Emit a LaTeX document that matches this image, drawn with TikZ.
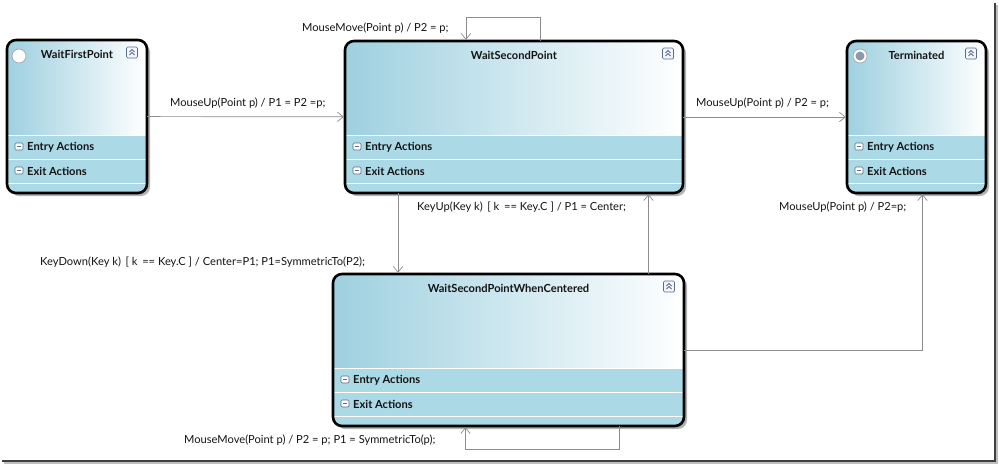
\documentclass[tikz,border=0pt]{standalone}
\usepackage{fontspec}
\setmainfont{Lato}
\usetikzlibrary{calc,arrows.meta}

\definecolor{hdblue}{RGB}{158,208,224}
\definecolor{cmpblue}{RGB}{171,217,230}
\definecolor{lineg}{RGB}{140,140,140}
\definecolor{txt}{RGB}{20,20,20}
\definecolor{iconb}{RGB}{90,110,135}

\begin{document}
\begin{tikzpicture}[x=0.03cm, y=-0.03cm]

    % 1 jednotka = 1 px, osa y dolů
    \def\px{0.03cm}

    % styly
    \tikzset{
        statebox/.style={draw=none, rectangle, outer sep=0pt, inner sep=0pt},
        border/.style={draw=black, line width=2.2pt, rounded corners=0.27cm},
        title/.style={font=\fontsize{9.5}{10}\selectfont\bfseries, text=txt, inner sep=0pt},
        cmp/.style={font=\fontsize{9.5}{10}\selectfont\bfseries, text=txt, inner sep=0pt, anchor=west},
        lbl/.style={font=\fontsize{9.5}{10}\selectfont, text=txt, inner sep=0pt, anchor=west},
        trans/.style={draw=lineg, line width=0.6pt, shorten >=1pt, -{Straight Barb[length=5pt,width=8pt]}},
        icon/.style={draw=iconb, line width=0.5pt}
    }

    % pomocné makro pro jeden stav
    % #1 jméno, #2 #3 levý horní roh, #4 šířka, #5 výška, #6 titulek
    \newcommand{\umlstate}[6]{%
        \node[statebox, minimum width=#4*\px, minimum height=#5*\px, anchor=north west] (#1) at (#2,#3) {};
        \fill[black!30, rounded corners=0.27cm] ($(#1.north west)+(3,3)$) rectangle ($(#1.south east)+(3,3)$);
        \begin{scope}
            \clip[rounded corners=0.27cm] (#1.north west) rectangle (#1.south east);
            \shade[left color=hdblue, middle color=hdblue!45!white, right color=white]
                (#1.north west) rectangle ($(#1.south east)+(0,-58)$);
            \fill[cmpblue] ($(#1.south west)+(0,-58)$) rectangle (#1.south east);
            \foreach \dy in {10,34,58} {
                \draw[white, line width=0.6pt] ($(#1.south west)+(0,-\dy)$) -- ($(#1.south east)+(0,-\dy)$);
            }
        \end{scope}
        \draw[border] (#1.north west) rectangle (#1.south east);
        \node[title] (#1-title) at ($(#1.north)+(0,14)$) {#6};
        % přepínač vpravo nahoře
        \coordinate (#1-tg) at ($(#1.north east)+(-15,12.5)$);
        \draw[icon, fill=blue!4, rounded corners=1pt] ($(#1-tg)+(-5.5,-5.5)$) rectangle ($(#1-tg)+(5.5,5.5)$);
        \draw[icon, line width=0.7pt] ($(#1-tg)+(-2.5,-0.5)$) -- ($(#1-tg)+(0,-3)$) -- ($(#1-tg)+(2.5,-0.5)$);
        \draw[icon, line width=0.7pt] ($(#1-tg)+(-2.5,2.5)$) -- ($(#1-tg)+(0,0)$) -- ($(#1-tg)+(2.5,2.5)$);
        % oddíly
        \foreach \dy in {46,22} {
            \draw[icon, fill=white, rounded corners=1pt] ($(#1.south west)+(8,-\dy-4)$) rectangle ($(#1.south west)+(16,-\dy+3)$);
            \draw[icon] ($(#1.south west)+(10,-\dy-0.5)$) -- ($(#1.south west)+(14,-\dy-0.5)$);
        }
        \node[cmp] (#1-entry) at ($(#1.south west)+(20,-46)$) {Entry Actions};
        \node[cmp] (#1-exit) at ($(#1.south west)+(20,-22)$) {Exit Actions};
    }

    % pozadí
    \fill[white] (0,0) rectangle (999,464);
    \useasboundingbox (0,0) rectangle (999,464);

    % rámeček
    \draw[black!25, line width=1.5pt] (997,5) -- (997,463) -- (4,463);
    \draw[black!75, line width=1.5pt] (995,3) -- (995,461) -- (2,461);

    % --- stavy ---
    \umlstate{wfp}{7}{40}{140}{153}{WaitFirstPoint}
    \umlstate{wsp}{345}{41}{338}{152}{WaitSecondPoint}
    \umlstate{term}{847}{41}{139}{152}{Terminated}
    \umlstate{wspc}{333}{274}{351}{152}{WaitSecondPointWhenCentered}

    % počáteční a koncový znak
    \draw[gray!70, fill=white, line width=0.6pt] ($(wfp.north west)+(12,16)$) circle (7);
    \draw[gray!70, fill=white, line width=0.6pt] ($(term.north west)+(13,15)$) circle (7);
    \fill[iconb!70] ($(term.north west)+(13,15)$) circle (4.5);

    % --- přechody ---
    \draw[trans] (wfp) -- (wsp);
    \draw[trans] (wsp) -- (term);
    \draw[trans] ($(wsp.north)+(26,0)$) -- ++(0,-24) -| ($(wsp.north)+(-48,0)$);
    \draw[trans] ($(wsp.south)+(-116,0)$) coordinate (kd) -- (kd |- wspc.north);
    \draw[trans] ($(wspc.north)+(140,0)$) coordinate (ku) -- (ku |- wsp.south);
    \draw[trans] (wspc.east) -| ($(term.south)+(6,0)$);
    \draw[trans] ($(wspc.south)+(111,0)$) -- ++(0,23) -| ($(wspc.south)+(-43,0)$);

    % popisky
    \node[lbl] (l-mu1) at (170,103) {MouseUp(Point p) / P1 = P2 =p;};
    \node[lbl] (l-mm1) at (302,28) {MouseMove(Point p) / P2 = p;};
    \node[lbl] (l-mu2) at (696,103) {MouseUp(Point p) / P2 = p;};
    \node[lbl] (l-ku) at (417,207) {KeyUp(Key k)\hspace{4pt}[ k\hspace{4pt}== Key.C ] / P1 = Center;};
    \node[lbl] (l-kd) at (40,262) {KeyDown(Key k)\hspace{4pt}[ k\hspace{4pt}== Key.C ] / Center=P1; P1=SymmetricTo(P2);};
    \node[lbl] (l-mu3) at (779,207) {MouseUp(Point p) / P2=p;};
    \node[lbl] (l-mm2) at (184,440) {MouseMove(Point p) / P2 = p; P1 = SymmetricTo(p);};

\end{tikzpicture}
\end{document}
